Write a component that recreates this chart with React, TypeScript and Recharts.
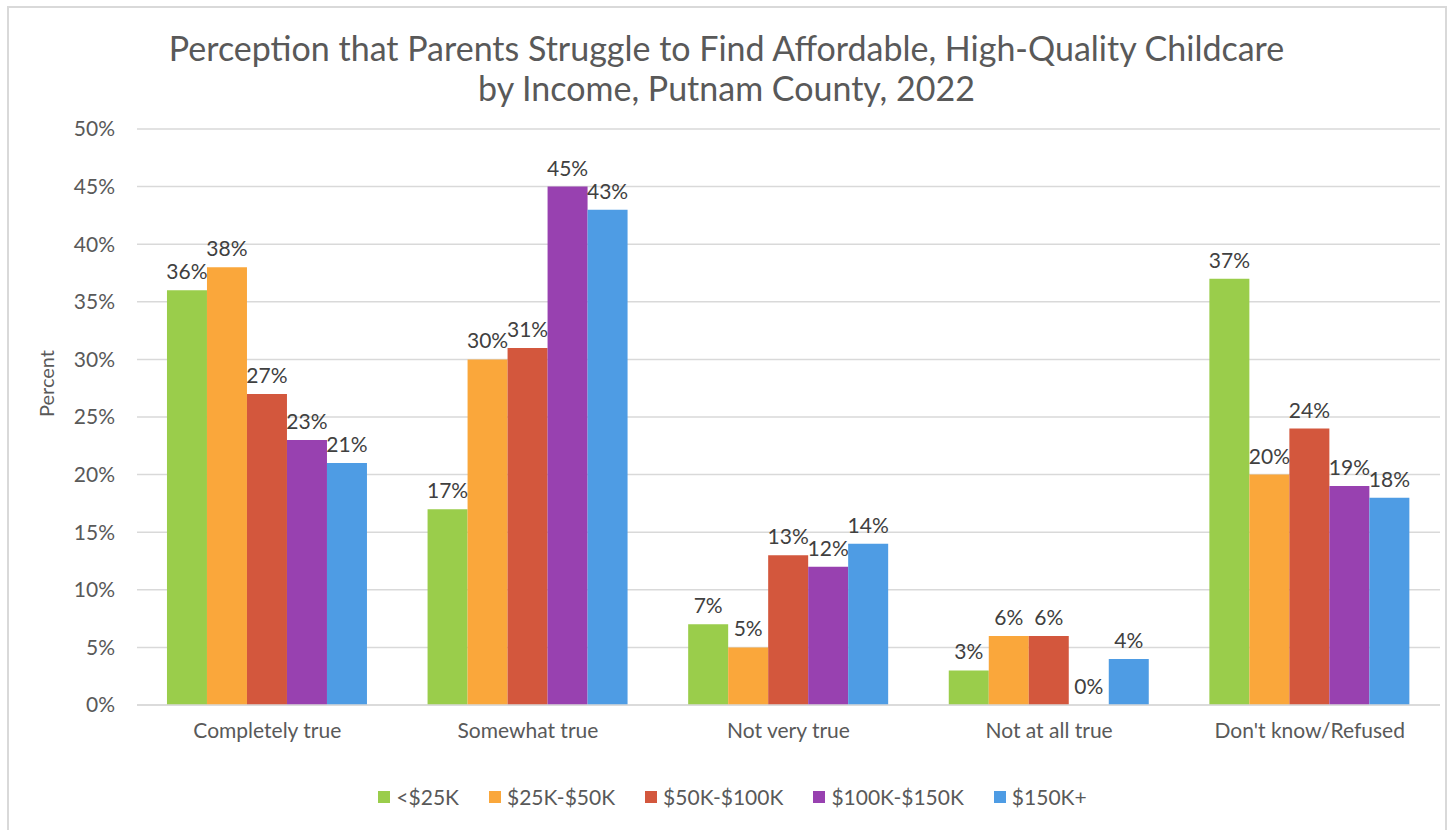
import { BarChart, Bar, XAxis, YAxis, CartesianGrid, LabelList } from "recharts"

const categories = ["Completely true", "Somewhat true", "Not very true", "Not at all true", "Don't know/Refused"]
const under25 = [36, 17, 7, 3, 37]
const from25to50 = [38, 30, 5, 6, 20]
const from50to100 = [27, 31, 13, 6, 24]
const from100to150 = [23, 45, 12, 0, 19]
const over150 = [21, 43, 14, 4, 18]
const yTicks = [0, 5, 10, 15, 20, 25, 30, 35, 40, 45, 50]

const series = [
  { key: "a", name: "<$25K", values: under25, color: "#9ACD4B" },
  { key: "b", name: "$25K-$50K", values: from25to50, color: "#FAA73B" },
  { key: "c", name: "$50K-$100K", values: from50to100, color: "#D3573D" },
  { key: "d", name: "$100K-$150K", values: from100to150, color: "#9841B0" },
  { key: "e", name: "$150K+", values: over150, color: "#4E9CE4" },
]

const data = categories.map((name, i) => {
  const row: Record<string, string | number> = { name }
  series.forEach((s) => (row[s.key] = s.values[i]))
  return row
})

const font = "'Century Gothic', Lato, 'DejaVu Sans', sans-serif"

export default function App() {
  return (
    <div style={{ position: "absolute", left: 0, top: 0, width: 1453, height: 830, background: "#fff", fontFamily: font }}>
      <div style={{ position: "absolute", left: 7, top: 6, width: 1440, height: 830, border: "2px solid #d9d9d9", boxSizing: "border-box" }} />
      <div style={{ position: "absolute", left: 0, top: 28, width: 1453, textAlign: "center", color: "#595959", fontSize: 34, lineHeight: "40px" }}>
        Perception that Parents Struggle to Find Affordable, High-Quality Childcare
        <br />
        by Income, Putnam County, 2022
      </div>
      <BarChart
        width={1453}
        height={830}
        data={data}
        margin={{ top: 129, right: 13, bottom: 95, left: 77 }}
        barCategoryGap="11.5%"
        barGap={0}
        style={{ position: "absolute", left: 0, top: 0 }}
      >
        <CartesianGrid vertical={false} stroke="#d9d9d9" strokeWidth={1.5} />
        <XAxis
          dataKey="name"
          tickLine={false}
          axisLine={{ stroke: "#d9d9d9", strokeWidth: 1.5 }}
          tick={{ fill: "#595959", fontSize: 21, fontFamily: font }}
          tickMargin={12}
          height={30}
        />
        <YAxis
          domain={[0, 50]}
          ticks={yTicks}
          tickFormatter={(v) => `${v}%`}
          tickLine={false}
          axisLine={false}
          tick={{ fill: "#595959", fontSize: 21, fontFamily: font }}
          tickMargin={16}
          width={60}
          label={{ value: "Percent", angle: -90, position: "insideLeft", offset: -30, fill: "#595959", fontSize: 20, fontFamily: font }}
        />
        {series.map((s) => (
          <Bar key={s.key} dataKey={s.key} name={s.name} fill={s.color} minPointSize={0.1} isAnimationActive={false}>
            <LabelList
              dataKey={s.key}
              position="top"
              offset={11}
              formatter={(v: number) => `${v}%`}
              fill="#404040"
              fontSize={21}
              fontFamily={font}
            />
          </Bar>
        ))}
      </BarChart>
      <div
        style={{
          position: "absolute",
          left: 0,
          top: 784,
          width: 1453,
          display: "flex",
          justifyContent: "center",
          gap: 30,
          paddingLeft: 12,
          boxSizing: "border-box",
          color: "#595959",
          fontSize: 21,
        }}
      >
        {series.map((s) => (
          <div key={s.key} style={{ display: "flex", alignItems: "center", gap: 6 }}>
            <span style={{ width: 12, height: 12, background: s.color, display: "inline-block" }} />
            <span>{s.name}</span>
          </div>
        ))}
      </div>
    </div>
  )
}
